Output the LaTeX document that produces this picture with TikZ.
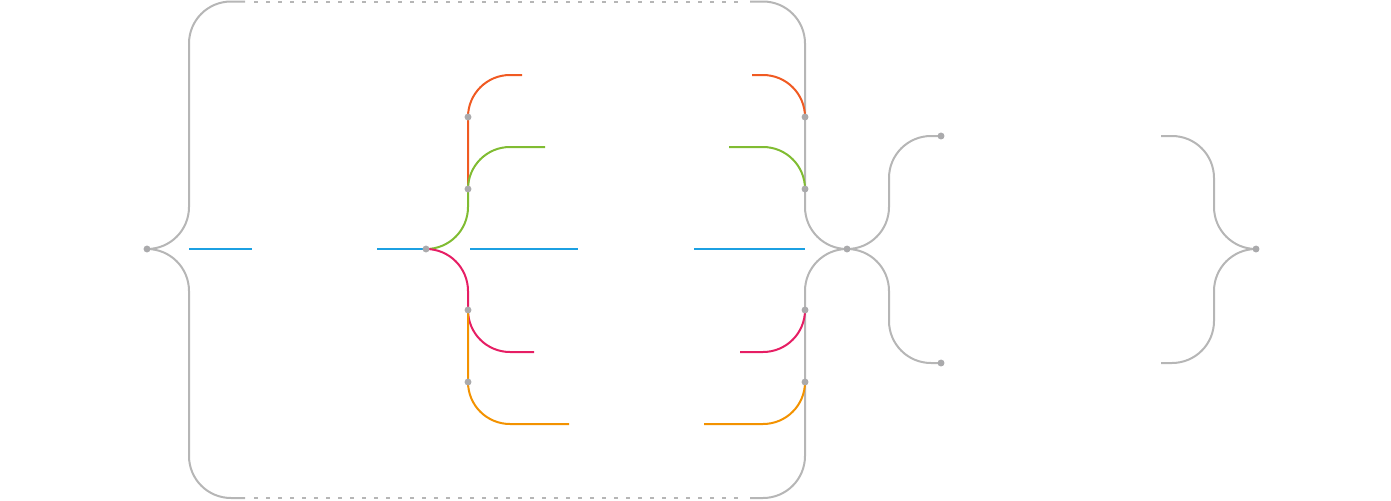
\documentclass[tikz,border=0pt]{standalone}
\definecolor{rgray}{RGB}{182,182,182}
\definecolor{dotgray}{RGB}{170,170,172}
\definecolor{rblue}{RGB}{28,160,226}
\definecolor{rred}{RGB}{240,90,34}
\definecolor{rgreen}{RGB}{128,188,50}
\definecolor{rpink}{RGB}{230,30,100}
\definecolor{rorange}{RGB}{243,146,0}
\begin{document}
\begin{tikzpicture}[x=0.75pt,y=-0.75pt,
  rail/.style={line width=1.5pt, rounded corners=31.5pt},
  straightrail/.style={line width=1.5pt},
  dashrail/.style={line width=1.5pt, rgray, dash pattern=on 3pt off 6pt},
  dot/.style={circle, fill=dotgray, inner sep=0pt, minimum size=5.2pt}]
\useasboundingbox (0,0) rectangle (1391,500);
% junction coordinates
\coordinate (start) at (147,249);
\coordinate (split) at (426,249);
\coordinate (la) at (468,117);
\coordinate (lb) at (468,189);
\coordinate (lc) at (468,310);
\coordinate (ld) at (468,382);
\coordinate (ra) at (805,117);
\coordinate (rb) at (805,189);
\coordinate (rc) at (805,310);
\coordinate (rd) at (805,382);
\coordinate (mid) at (847,249);
\coordinate (ta) at (941,136);
\coordinate (tb) at (941,363);
\coordinate (fin) at (1256,249);
% gray loop
\draw[rail,rgray] (start) -- (189,249) -- (189,1.5) -- (245,1.5);
\draw[rail,rgray] (start) -- (189,249) -- (189,498) -- (245,498);
\draw[dashrail] (254,1.5) -- (744,1.5);
\draw[dashrail] (254,498) -- (744,498);
\draw[rail,rgray] (750,1.5) -- (805,1.5) -- (805,249) -- (mid);
\draw[rail,rgray] (750,498) -- (805,498) -- (805,249) -- (mid);
% right braces
\draw[rail,rgray] (mid) -- (889,249) -- (889,136) -- (ta);
\draw[rail,rgray] (mid) -- (889,249) -- (889,363) -- (tb);
\draw[rail,rgray] (1161,136) -- (1214,136) -- (1214,249) -- (fin);
\draw[rail,rgray] (1161,363) -- (1214,363) -- (1214,249) -- (fin);
% blue
\draw[straightrail,rblue] (189,249) -- (252,249);
\draw[straightrail,rblue] (377,249) -- (split);
\draw[straightrail,rblue] (470,249) -- (578,249);
\draw[straightrail,rblue] (694,249) -- (805,249);
% left branches
\draw[rail,rred] (lb) -- (468,75) -- (522,75);
\draw[rail,rgreen] (split) -- (468,249) -- (lb);
\draw[rail,rgreen] (lb) -- (468,147) -- (545,147);
\draw[rail,rpink] (split) -- (468,249) -- (lc);
\draw[rail,rpink] (lc) -- (468,352) -- (534,352);
\draw[rail,rorange] (lc) -- (468,424) -- (569,424);
% right branches
\draw[rail,rred] (752,75) -- (805,75) -- (ra);
\draw[rail,rgreen] (729,147) -- (805,147) -- (rb);
\draw[rail,rpink] (740,352) -- (805,352) -- (rc);
\draw[rail,rorange] (704,424) -- (805,424) -- (rd);
% dots
\foreach \p in {start,split,la,lb,lc,ld,ra,rb,rc,rd,mid,ta,tb,fin}
  \node[dot] (dot-\p) at (\p) {};
\end{tikzpicture}
\end{document}
